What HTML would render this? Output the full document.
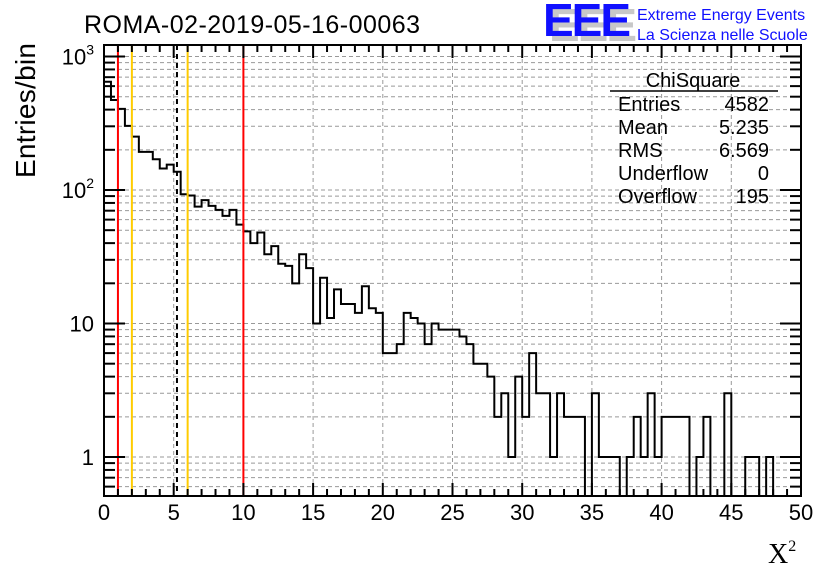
<!DOCTYPE html>
<html><head><meta charset="utf-8">
<style>
html,body{margin:0;padding:0;background:#fff;}
svg{display:block;font-family:"Liberation Sans",sans-serif;}
</style></head>
<body>
<svg id="chart" width="836" height="572" viewBox="0 0 836 572" xmlns="http://www.w3.org/2000/svg">
<rect width="836" height="572" fill="#fff"/>
<g id="grid"></g>
<g id="hist"></g>
<g id="cuts"></g>
<g id="axes"></g>
<text x="84" y="33" font-size="25" textLength="336" fill="#000">ROMA-02-2019-05-16-00063</text>
<text transform="translate(35,178) rotate(-90)" font-size="28" textLength="135" fill="#000">Entries/bin</text>
<text x="768" y="563" font-size="28" font-family="'Liberation Serif',serif" fill="#000">X<tspan font-size="16" dy="-12">2</tspan></text>
<g>
<text x="549" y="41" font-size="46" font-weight="bold" fill="#c8c8c8" letter-spacing="-2">EEE</text>
<text x="543" y="36" font-size="46" font-weight="bold" fill="#1010ff" letter-spacing="-2">EEE</text>
<text x="637" y="20" font-size="16" fill="#1010ff">Extreme Energy Events</text>
<text x="637" y="40" font-size="16" fill="#1010ff">La Scienza nelle Scuole</text>
</g>
<g font-size="20" fill="#000">
<text x="693" y="87" text-anchor="middle">ChiSquare</text>
<line x1="610" y1="91" x2="778" y2="91" stroke="#000" stroke-width="1.5"/>
<text x="618" y="111">Entries</text><text x="769" y="111" text-anchor="end">4582</text>
<text x="618" y="134">Mean</text><text x="769" y="134" text-anchor="end">5.235</text>
<text x="618" y="157">RMS</text><text x="769" y="157" text-anchor="end">6.569</text>
<text x="618" y="180">Underflow</text><text x="769" y="180" text-anchor="end">0</text>
<text x="618" y="203">Overflow</text><text x="769" y="203" text-anchor="end">195</text>
</g>
</svg>
<script>
const binCounts = [647,472,405,302,251,193,193,170,145,155,137,93,91,75,84,76,71,64,71,55,49,40,48,33,38,28,27,20,33,26,10,22,11,18,14,14,12,19,13,12,6,6,7,12,11,10,7,10,9,9,9,8,7,5,5,4,2,3,1,4,2,6,3,3,1,3,2,2,2,0,3,1,1,1,0,1,2,1,3,1,2,2,2,2,0,1,2,0,0,3,0,0,1,1,0,1,0,0,0,0];
const binWidth = 0.5;
const xTickValues = [0,5,10,15,20,25,30,35,40,45,50];
const xTickLabels = ["0","5","10","15","20","25","30","35","40","45","50"];
const yDecades = [1,10,100,1000];
const cutRed = [1,10];
const cutYellow = [2,6];
const meanValue = 5.235;

const L=104,R=801,T=45,B=496;
const X0=0,X1=50, DEC=133.5, Y1PX=457;
function xs(v){return L+(v-X0)/(X1-X0)*(R-L);}
function ys(v){if(v<=0)return B;const y=Y1PX-Math.log10(v)*DEC;return Math.max(T,Math.min(B,y));}
const NS="http://www.w3.org/2000/svg";
function mk(tag,attrs,parent){const e=document.createElementNS(NS,tag);for(const k in attrs)e.setAttribute(k,attrs[k]);parent.appendChild(e);return e;}
const grid=document.getElementById('grid'),hist=document.getElementById('hist'),cuts=document.getElementById('cuts'),axes=document.getElementById('axes');

xTickValues.forEach(v=>{if(v>X0&&v<X1){const g=mk('line',{x1:xs(v),x2:xs(v),y1:T,y2:B,stroke:'#999','stroke-dasharray':'4,3','stroke-width':1},grid);

}});
const yMinor=[];
for(let d=0.1;d<=1000;d*=10){for(let m=1;m<=9;m++){const v=Math.round(d*m*1000)/1000;const y=ys(v);if(y>T&&y<B)yMinor.push(v);}}
yMinor.forEach(v=>{const g=mk('line',{x1:L,x2:R,y1:ys(v),y2:ys(v),stroke:'#999','stroke-dasharray':'4,3','stroke-width':1},grid);

});

let d='M'+xs(0)+' '+B;
binCounts.forEach((c,i)=>{const x0=xs(i*binWidth),x1=xs((i+1)*binWidth),y=ys(c);d+=' L'+x0+' '+y+' L'+x1+' '+y;});
d+=' L'+xs(binCounts.length*binWidth)+' '+B;
const hp=mk('path',{d:d,fill:'none',stroke:'#000','stroke-width':2},hist);



cutRed.forEach(v=>{const l=mk('line',{x1:xs(v),x2:xs(v),y1:T,y2:B,stroke:'#ff0000','stroke-width':2},cuts);

});
cutYellow.forEach(v=>{const l=mk('line',{x1:xs(v),x2:xs(v),y1:T,y2:B,stroke:'#ffcc00','stroke-width':2},cuts);

});
const ml=mk('line',{x1:xs(meanValue),x2:xs(meanValue),y1:T,y2:B,stroke:'#000','stroke-width':2,'stroke-dasharray':'5,4'},cuts);



const fr=mk('rect',{x:L,y:T,width:R-L,height:B-T,fill:'none',stroke:'#000','stroke-width':2},axes);



for(let v=X0;v<=X1+1e-9;v+=1){const major=(v%5===0);const len=major?13:7;
[[B,B-len],[T,T+len]].forEach(p=>{const t=mk('line',{x1:xs(v),x2:xs(v),y1:p[0],y2:p[1],stroke:'#000','stroke-width':2},axes);

});}
xTickValues.forEach((v,i)=>{const t=mk('text',{x:xs(v),y:520,'font-size':22,'text-anchor':'middle',fill:'#000'},axes);t.textContent=xTickLabels[i];

});

yMinor.forEach(v=>{const major=yDecades.includes(v);const len=major?21:11;
[[L,L+len],[R,R-len]].forEach(p=>{const t=mk('line',{x1:p[0],x2:p[1],y1:ys(v),y2:ys(v),stroke:'#000','stroke-width':2},axes);

});});
yDecades.forEach(v=>{const y=ys(v)+8;const t=mk('text',{x:94,y:y,'font-size':22,'text-anchor':'end',fill:'#000'},axes);
const e=Math.round(Math.log10(v));
if(e===0)t.textContent='1';else if(e===1)t.textContent='10';else{t.textContent='10';const s=mk('tspan',{'font-size':14,dy:-10},t);s.textContent=String(e);}

});
</script>
</body></html>
